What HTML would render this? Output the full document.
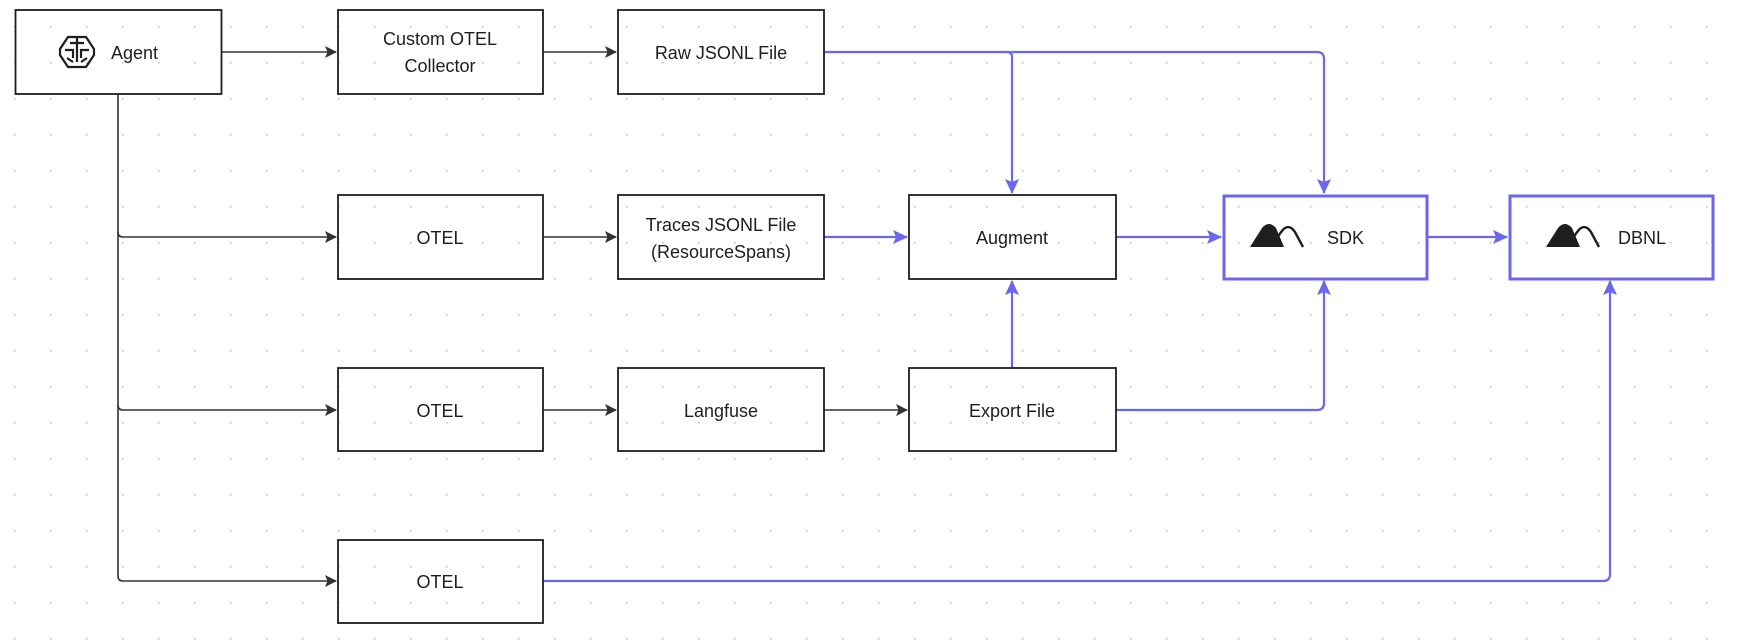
<!DOCTYPE html>
<html><head><meta charset="utf-8"><style>
html,body{margin:0;padding:0;background:#fff;}
svg{display:block;}
text{font-family:"Liberation Sans",sans-serif;font-size:18px;fill:#1e1e1e;}
</style></head><body>
<svg width="1738" height="640" viewBox="0 0 1738 640" xmlns="http://www.w3.org/2000/svg">
<defs>
<pattern id="dots" x="14" y="26" width="36" height="36" patternUnits="userSpaceOnUse">
<circle cx="0.75" cy="0.75" r="1" fill="#c4c4c4"/>
</pattern>
<marker id="ak" markerWidth="12" markerHeight="12" refX="11" refY="6" orient="auto" markerUnits="userSpaceOnUse"><path d="M0,0 L12,6 L0,12 L2.5,6 z" fill="#333"/></marker>
<marker id="ab" markerWidth="15" markerHeight="14" refX="14" refY="7" orient="auto" markerUnits="userSpaceOnUse"><path d="M0,0 L15,7 L0,14 L3,7 z" fill="#6b66ee"/></marker>
</defs>
<rect width="1738" height="640" fill="url(#dots)"/>

<g fill="none" stroke="#333" stroke-width="1.6">
<path d="M221,52 L336,52" marker-end="url(#ak)"/>
<path d="M543,52 L616,52" marker-end="url(#ak)"/>
<path d="M543,237 L616,237" marker-end="url(#ak)"/>
<path d="M543,410 L616,410" marker-end="url(#ak)"/>
<path d="M824,410 L907,410" marker-end="url(#ak)"/>
<path d="M118,94 L118,576 Q118,581 123,581 L336,581" marker-end="url(#ak)"/>
<path d="M118,232 Q118,237 123,237 L336,237" marker-end="url(#ak)"/>
<path d="M118,405 Q118,410 123,410 L336,410" marker-end="url(#ak)"/>
</g>

<g fill="none" stroke="#6b66ee" stroke-width="2.2">
<path d="M824,52 L1007,52 Q1012,52 1012,57 L1012,193" marker-end="url(#ab)"/>
<path d="M1007,52 L1317,52 Q1324,52 1324,59 L1324,193" marker-end="url(#ab)"/>
<path d="M824,237 L907,237" marker-end="url(#ab)"/>
<path d="M1116,237 L1221,237" marker-end="url(#ab)"/>
<path d="M1427,237 L1507,237" marker-end="url(#ab)"/>
<path d="M1012,368 L1012,281" marker-end="url(#ab)"/>
<path d="M1116,410 L1317,410 Q1324,410 1324,403 L1324,281" marker-end="url(#ab)"/>
<path d="M543,581 L1603,581 Q1610,581 1610,574 L1610,281" marker-end="url(#ab)"/>
</g>

<g fill="none" stroke="#1e1e1e" stroke-width="1.8">
<rect x="15.5" y="10" width="206" height="84"/>
<rect x="338" y="10" width="205" height="84"/>
<rect x="618" y="10" width="206" height="84"/>
<rect x="338" y="195" width="205" height="84"/>
<rect x="618" y="195" width="206" height="84"/>
<rect x="909" y="195" width="207" height="84"/>
<rect x="338" y="368" width="205" height="83"/>
<rect x="618" y="368" width="206" height="83"/>
<rect x="909" y="368" width="207" height="83"/>
<rect x="338" y="540" width="205" height="83"/>
</g>
<g fill="none" stroke="#6b66ee" stroke-width="3">
<rect x="1224" y="196" width="203" height="83"/>
<rect x="1510" y="196" width="203" height="83"/>
</g>

<g fill="none" stroke="#1e1e1e" stroke-width="2.2" transform="translate(77,52)">
<path d="M-9,-15 L9,-15 L17,-3 L17,3 L9,15 L-9,15 L-17,3 L-17,-3 z"/>
<path d="M0,-15 L0,10 M-7,-9 L7,-9 M-12,-2 L-4,-2 L-4,6 M12,-2 L4,-2 L4,6 M-10,6 L-4,10 M10,6 L4,10"/>
</g>
<text x="111" y="59">Agent</text>

<text x="440" y="45" text-anchor="middle">Custom OTEL</text>
<text x="440" y="72" text-anchor="middle">Collector</text>
<text x="721" y="59" text-anchor="middle">Raw JSONL File</text>
<text x="440" y="244" text-anchor="middle">OTEL</text>
<text x="721" y="231" text-anchor="middle">Traces JSONL File</text>
<text x="721" y="258" text-anchor="middle">(ResourceSpans)</text>
<text x="1012" y="244" text-anchor="middle">Augment</text>
<text x="440" y="417" text-anchor="middle">OTEL</text>
<text x="721" y="417" text-anchor="middle">Langfuse</text>
<text x="1012" y="417" text-anchor="middle">Export File</text>
<text x="440" y="588" text-anchor="middle">OTEL</text>

<g>
<path d="M1250,247 L1262,228 Q1269,220 1276,228 L1284,247 z" fill="#1e1e1e"/>
<path d="M1278,237 Q1287,220 1295,232 L1303,247" fill="none" stroke="#1e1e1e" stroke-width="2.4"/>
<text x="1327" y="244">SDK</text>
</g>
<g>
<path d="M1546,247 L1558,228 Q1565,220 1572,228 L1580,247 z" fill="#1e1e1e"/>
<path d="M1574,237 Q1583,220 1591,232 L1599,247" fill="none" stroke="#1e1e1e" stroke-width="2.4"/>
<text x="1618" y="244">DBNL</text>
</g>
</svg>
</body></html>
